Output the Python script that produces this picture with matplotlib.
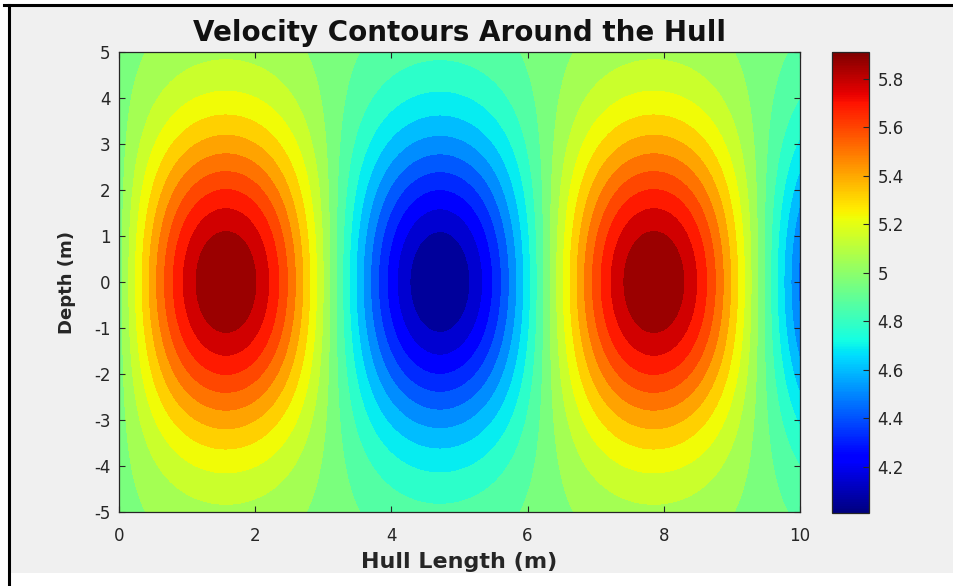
import numpy as np
import matplotlib
matplotlib.use("Agg")
import matplotlib.pyplot as plt
from matplotlib.patches import Rectangle
from matplotlib.lines import Line2D
from matplotlib.colors import Normalize
from matplotlib.cm import ScalarMappable

plt.rcParams['font.family'] = ['DejaVu Sans']
plt.rcParams['axes.unicode_minus'] = False

# ---- data ----
hull_length_range = [0, 10]          # m
depth_range = [-5, 5]                 # m
base_velocity = 4.96                  # mean level (green)
velocity_amplitude = 0.95             # peak deviation (5.91 max, 4.01 min)
depth_decay = 12.0                    # Gaussian decay scale in depth (m^2)
n_levels = 20
x_ticks = [0, 2, 4, 6, 8, 10]
y_ticks = [-5, -4, -3, -2, -1, 0, 1, 2, 3, 4, 5]
cbar_ticks = [4.2, 4.4, 4.6, 4.8, 5.0, 5.2, 5.4, 5.6, 5.8]

x = np.linspace(hull_length_range[0], hull_length_range[1], 200)
y = np.linspace(depth_range[0], depth_range[1], 200)
X, Y = np.meshgrid(x, y)
V = base_velocity + velocity_amplitude * np.sin(X) * np.exp(-Y**2 / depth_decay)

vmin, vmax = V.min(), V.max()
levels = np.linspace(vmin, vmax, n_levels + 2)

fig = plt.figure(figsize=(9.54, 5.86), dpi=100)
fig.patch.set_facecolor('white')
W, H = 954, 586
fig.patches.append(Rectangle((10 / W, 1 - 573 / H), 1, (573 - 6) / H,
                             transform=fig.transFigure, facecolor='#f0f0f0',
                             edgecolor='none', zorder=-10))
fig.lines.append(Line2D([9 / W, 9 / W], [0, 1 - 5 / H], transform=fig.transFigure,
                        color='black', lw=2.2))
fig.lines.append(Line2D([4 / W, 1], [1 - 5 / H, 1 - 5 / H], transform=fig.transFigure,
                        color='black', lw=2.2))

ax = fig.add_axes([119 / W, 1 - 512 / H, (800 - 119) / W, (512 - 52) / H])
cs = ax.contourf(X, Y, V, levels=levels, cmap='jet', vmin=vmin, vmax=vmax)

ax.set_xlim(hull_length_range)
ax.set_ylim(depth_range)
ax.set_xticks(x_ticks)
ax.set_yticks(y_ticks)
ax.tick_params(direction='in', top=True, right=True, length=4, width=0.8,
               labelsize=12, colors='#262626')
ax.tick_params(axis='x', pad=11)
ax.tick_params(axis='y', pad=6)
for sp in ax.spines.values():
    sp.set_color('#262626')
    sp.set_linewidth(0.9)

ax.set_title('Velocity Contours Around the Hull', fontsize=20, fontweight='bold',
             color='#111111', pad=8)
ax.set_xlabel('Hull Length (m)', fontsize=16, fontweight='bold', color='#262626', labelpad=5)
ax.set_ylabel('Depth (m)', fontsize=13, fontweight='bold', color='#262626', labelpad=13)

cax = fig.add_axes([832 / W, 1 - 513 / H, 37 / W, (513 - 52) / H])
sm = ScalarMappable(norm=Normalize(vmin=vmin, vmax=vmax), cmap='jet')
cb = fig.colorbar(sm, cax=cax)
cb.set_ticks(cbar_ticks)
cb.set_ticklabels(['%g' % t for t in cbar_ticks])
cb.ax.tick_params(direction='in', length=4, width=0.8, labelsize=12,
                  colors='#262626', pad=6)
cb.outline.set_edgecolor('#262626')
cb.outline.set_linewidth(0.9)

fig.savefig('out.png', dpi=100)
